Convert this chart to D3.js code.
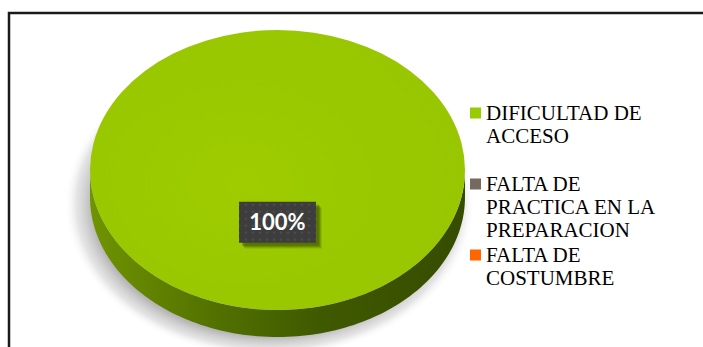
<!DOCTYPE html>
<html>
<head>
<meta charset="utf-8">
<script src="https://cdn.jsdelivr.net/npm/d3@7"></script>
<style>
  html, body { margin: 0; padding: 0; background: #fff; }
  svg { display: block; }
</style>
</head>
<body>
<svg id="chart" width="703" height="347"></svg>
<script>
// Survey answers: share of respondents per reason
const categories = ["DIFICULTAD DE ACCESO", "FALTA DE PRACTICA EN LA PREPARACION", "FALTA DE COSTUMBRE"];
const values = [100, 0, 0];
const colors = ["#99C800", "#756A60", "#FF6600"];
const legendColors = ["#99CC00", "#756A60", "#FF6600"];

const svg = d3.select("#chart");
const W = 703, H = 347;

svg.append("rect").attr("width", W).attr("height", H).attr("fill", "#fff");

// chart frame (runs past the right and bottom edges)
svg.append("rect")
  .attr("x", 9).attr("y", 13)
  .attr("width", 720).attr("height", 360)
  .attr("fill", "none").attr("stroke", "#1a1a1a").attr("stroke-width", 2.5);

const defs = svg.append("defs");

// soft shadow as a radial fade
const shadowGrad = defs.append("radialGradient").attr("id", "shadowGrad")
  .attr("cx", "50%").attr("cy", "50%").attr("r", "50%");
[[0, "#9a9a9a", 0.85], [0.86, "#a4a4a4", 0.8], [0.94, "#c4c4c4", 0.45], [1, "#ffffff", 0]].forEach(([o, c, a]) =>
  shadowGrad.append("stop").attr("offset", o).attr("stop-color", c).attr("stop-opacity", a));

const sideGrad = defs.append("linearGradient").attr("id", "sideGrad")
  .attr("x1", "0%").attr("x2", "100%").attr("y1", "0%").attr("y2", "0%");
[[0, "#6f9400"], [0.3, "#557400"], [0.6, "#405a00"], [1, "#364c00"]].forEach(([o, c]) =>
  sideGrad.append("stop").attr("offset", o).attr("stop-color", c));

const topGrad = defs.append("radialGradient").attr("id", "topGrad")
  .attr("cx", "40%").attr("cy", "55%").attr("r", "70%");
topGrad.append("stop").attr("offset", 0).attr("stop-color", "#9ecc00");
topGrad.append("stop").attr("offset", 1).attr("stop-color", "#97c500");

const dots = defs.append("pattern").attr("id", "dots")
  .attr("width", 7).attr("height", 7).attr("patternUnits", "userSpaceOnUse");
dots.append("rect").attr("width", 7).attr("height", 7).attr("fill", "#3d3d3d");
dots.append("circle").attr("cx", 3.5).attr("cy", 3.5).attr("r", 1).attr("fill", "#575757");

// 3D pie geometry
const cx = 277.5, cy = 170, rx = 187.5, ry = 140, depth = 27;
const k = ry / rx;

const pie = d3.pie().sort(null).value(d => d)(values);

// drop shadow under the disc
svg.append("ellipse")
  .attr("cx", cx - 8).attr("cy", cy + 34)
  .attr("rx", rx + 18).attr("ry", ry + 14)
  .attr("fill", "url(#shadowGrad)");

const px = a => cx + rx * Math.sin(a);
const py = a => cy - ry * Math.cos(a);

// front side wall of each slice (visible between the 3 and 9 o'clock positions)
const sideGroup = svg.append("g");
pie.forEach((s, i) => {
  if (s.endAngle - s.startAngle <= 0) return;
  const a0 = Math.max(s.startAngle, Math.PI / 2);
  const a1 = Math.min(s.endAngle, 3 * Math.PI / 2);
  if (a1 <= a0) return;
  const n = 120;
  const angles = d3.range(n + 1).map(j => a0 + (a1 - a0) * j / n);
  const pts = angles.map(a => [px(a), py(a)])
    .concat(angles.slice().reverse().map(a => [px(a), py(a) + depth]));
  sideGroup.append("path")
    .attr("d", d3.line()(pts) + "Z")
    .attr("fill", i === 0 ? "url(#sideGrad)" : d3.color(colors[i]).darker(1.2));
});

// top faces
const arc = d3.arc().innerRadius(0).outerRadius(rx);
svg.append("g")
  .attr("transform", `translate(${cx},${cy}) scale(1,${k})`)
  .selectAll("path")
  .data(pie.filter(d => d.endAngle > d.startAngle))
  .join("path")
  .attr("d", arc)
  .attr("fill", (d, i) => d.index === 0 ? "url(#topGrad)" : colors[d.index]);

// value labels
const total = d3.sum(values);
const labelArc = d3.arc().innerRadius(70).outerRadius(70);
pie.filter(d => d.value > 0).forEach(d => {
  const [lx0, ly0] = labelArc.centroid(d);
  const lx = cx + lx0, ly = cy + ly0 * k;
  const bw = 77, bh = 41;
  const g = svg.append("g").attr("transform", `translate(${lx},${ly})`);
  // layered soft shadow offset to the lower right
  [[6, 0.12], [5, 0.18], [4, 0.25], [3, 0.3]].forEach(([o, a]) =>
    g.append("rect")
      .attr("x", -bw / 2 + o).attr("y", -bh / 2 + o)
      .attr("width", bw).attr("height", bh)
      .attr("fill", "#2f4200").attr("opacity", a));
  g.append("rect")
    .attr("x", -bw / 2).attr("y", -bh / 2)
    .attr("width", bw).attr("height", bh)
    .attr("fill", "url(#dots)");
  g.append("text")
    .attr("x", 0).attr("y", 8)
    .attr("text-anchor", "middle")
    .attr("font-family", "Lato, 'Open Sans', sans-serif")
    .attr("font-weight", 700)
    .attr("font-size", 22)
    .attr("fill", "#fff")
    .text(Math.round(d.value / total * 100) + "%");
});

// legend
const legendY = d3.scalePoint().domain(categories).range([120, 262]);
const legend = svg.append("g");
const maxW = 180, lineH = 23;
categories.forEach((c, i) => {
  const y = legendY(c);
  legend.append("rect")
    .attr("x", 470).attr("y", y - 12.5)
    .attr("width", 11).attr("height", 11)
    .attr("fill", legendColors[i]);
  const t = legend.append("text")
    .attr("x", 486).attr("y", y)
    .attr("font-family", "'Liberation Serif', 'Times New Roman', serif")
    .attr("font-size", 21)
    .attr("fill", "#000");
  const words = c.split(" ");
  let line = [], lineNo = 0;
  let tspan = t.append("tspan").attr("x", 486).attr("y", y);
  words.forEach(w => {
    line.push(w);
    tspan.text(line.join(" "));
    if (tspan.node().getComputedTextLength() > maxW && line.length > 1) {
      line.pop();
      tspan.text(line.join(" "));
      line = [w];
      lineNo++;
      tspan = t.append("tspan").attr("x", 486).attr("y", y + lineNo * lineH).text(w);
    }
  });
});
</script>
</body>
</html>
